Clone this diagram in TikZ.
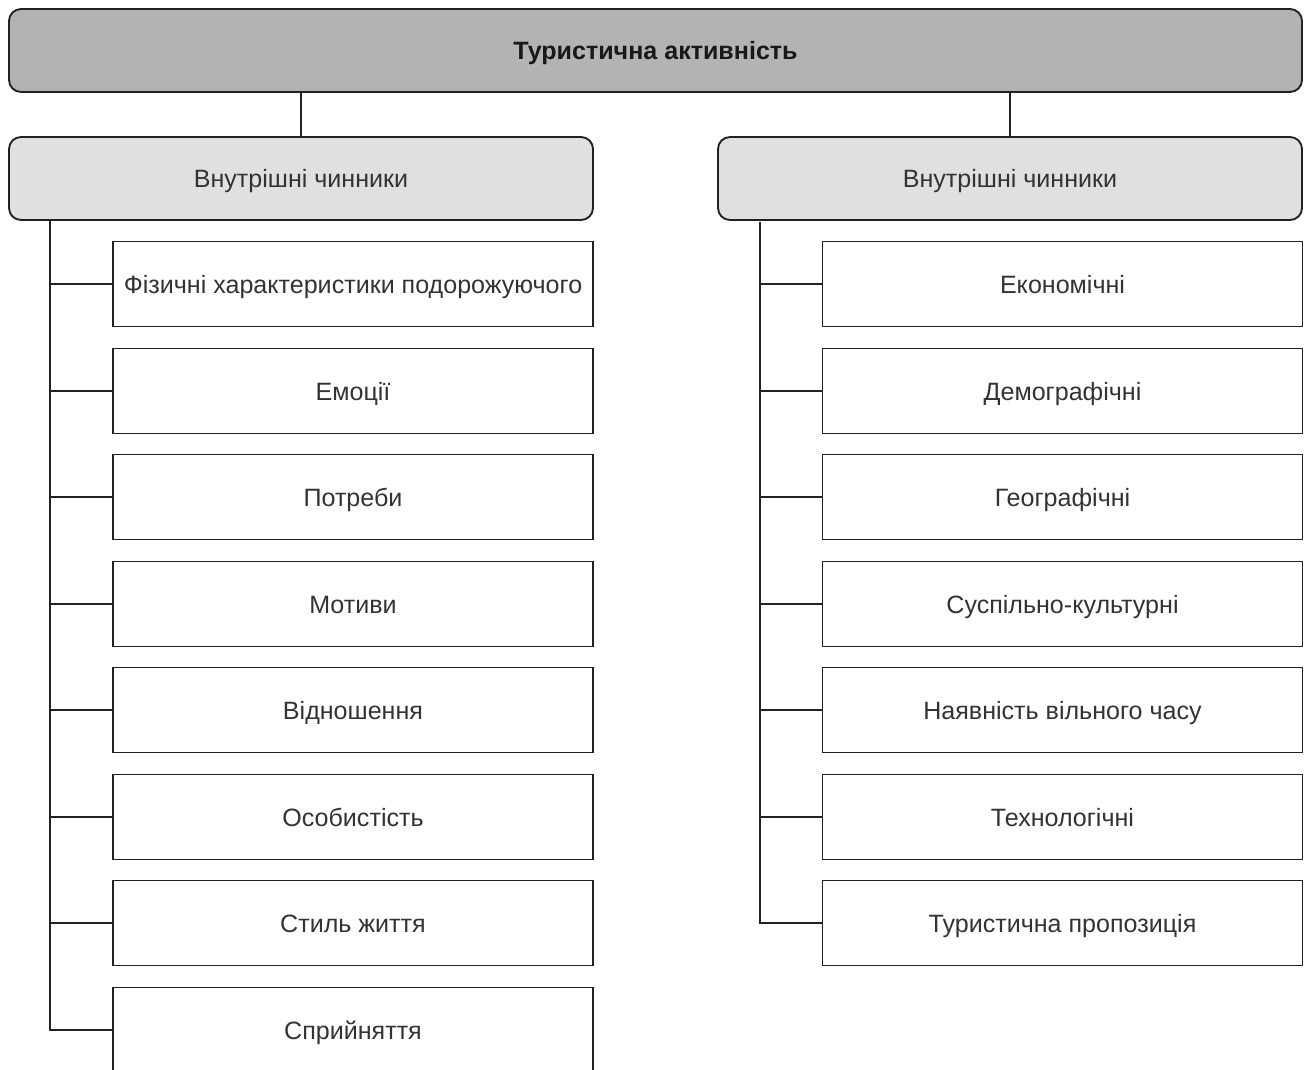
\documentclass[tikz,border=0pt]{standalone}
\usepackage{fontspec}
\setmainfont{Liberation Sans}
\definecolor{topfill}{HTML}{B3B3B3}
\definecolor{grpfill}{HTML}{E0E0E0}
\definecolor{txt}{HTML}{333333}
\definecolor{edge}{HTML}{222222}
\begin{document}
\begin{tikzpicture}[x=0.75pt,y=-0.75pt,
  base/.style={draw=edge,line width=1.4pt,inner sep=0pt,text height=13.5pt,text depth=0pt,font=\fontsize{18.8}{22}\selectfont,text=txt},
  topbox/.style={base,fill=topfill,rounded corners=9pt,minimum width=1293*0.75pt,minimum height=83*0.75pt,font=\fontsize{18.8}{22}\selectfont\bfseries,text=black!90},
  grpbox/.style={base,fill=grpfill,rounded corners=9pt,minimum width=584*0.75pt,minimum height=83*0.75pt},
  itembox/.style={base,fill=white,minimum width=480*0.75pt,minimum height=85*0.75pt},
  conn/.style={draw=edge,line width=1.4pt}]
\useasboundingbox (0,0) rectangle (1310,1070);
\node[topbox] (top) at (655.5,50.5) {Туристична активність};
\node[grpbox] (gl) at (301,178.5) {Внутрішні чинники};
\node[grpbox] (gr) at (1010,178.5) {Внутрішні чинники};
\draw[conn] (gl.north |- top.south) -- (gl.north);
\draw[conn] (gr.north |- top.south) -- (gr.north);
% left items
\node[itembox] (l1) at (353,284) {Фізичні характеристики подорожуючого};
\node[itembox] (l2) at (353,391) {Емоції};
\node[itembox] (l3) at (353,497) {Потреби};
\node[itembox] (l4) at (353,604) {Мотиви};
\node[itembox] (l5) at (353,710) {Відношення};
\node[itembox] (l6) at (353,817) {Особистість};
\node[itembox] (l7) at (353,923) {Стиль життя};
\node[itembox] (l8) at (353,1030) {Сприйняття};
% right items
\node[itembox] (r1) at (1062.5,284) {Економічні};
\node[itembox] (r2) at (1062.5,391) {Демографічні};
\node[itembox] (r3) at (1062.5,497) {Географічні};
\node[itembox] (r4) at (1062.5,604) {Суспільно-культурні};
\node[itembox] (r5) at (1062.5,710) {Наявність вільного часу};
\node[itembox] (r6) at (1062.5,817) {Технологічні};
\node[itembox] (r7) at (1062.5,923) {Туристична пропозиція};
\coordinate (lt) at (50,220);
\coordinate (rt) at (760,222);
\draw[conn] (lt) |- (l8.west);
\foreach \i in {1,...,7} {\draw[conn] (lt |- l\i.west) -- (l\i.west);}
\draw[conn] (rt) |- (r7.west);
\foreach \i in {1,...,6} {\draw[conn] (rt |- r\i.west) -- (r\i.west);}
\end{tikzpicture}
\end{document}
